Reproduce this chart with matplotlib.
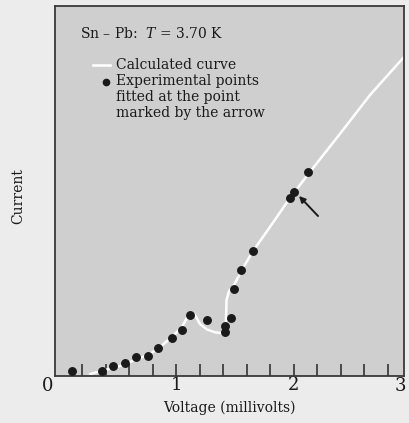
import matplotlib
matplotlib.use("Agg")
import matplotlib.pyplot as plt
from matplotlib.ticker import FixedLocator

# ---- data ----
exp_v = [0.111, 0.367, 0.460, 0.569, 0.662, 0.759, 0.849, 0.963, 1.054, 1.117,
         1.263, 1.419, 1.419, 1.469, 1.490, 1.554, 1.654, 1.968, 2.005, 2.124]
exp_i = [0.135, 0.135, 0.27, 0.35, 0.505, 0.535, 0.749, 1.014, 1.235, 1.657,
         1.519, 1.351, 1.181, 1.573, 2.357, 2.873, 3.368, 4.811, 4.981, 5.50]

calc_v = [0.268, 0.395, 0.523, 0.651, 0.778, 0.863, 0.965, 1.050, 1.101, 1.127,
          1.161, 1.203, 1.263, 1.331, 1.399, 1.416, 1.424, 1.429, 1.450, 1.492,
          1.569, 1.654, 1.798, 1.968, 2.138, 2.419, 2.649, 2.938]
calc_i = [0.054, 0.162, 0.27, 0.432, 0.595, 0.784, 1.054, 1.324, 1.622, 1.730,
          1.649, 1.405, 1.257, 1.181, 1.154, 1.216, 1.514, 2.054, 2.297, 2.459,
          2.919, 3.378, 4.027, 4.811, 5.514, 6.649, 7.595, 8.622]

arrow_head = (2.045, 4.865)
arrow_tail = (2.207, 4.324)

minor_ticks = [0.2, 0.4, 0.6, 0.8, 1.2, 1.4, 1.6, 1.8, 2.2, 2.4, 2.6, 2.8]
major_ticks = [1, 2]

title_text = "Sn – Pb:  $T$ = 3.70 K"
legend_curve = "Calculated curve"
legend_points = ["Experimental points", "fitted at the point", "marked by the arrow"]
x_label = "Voltage (millivolts)"
y_label = "Current"

plt.rcParams['font.family'] = ['DejaVu Serif']
plt.rcParams['mathtext.fontset'] = 'custom'
plt.rcParams['mathtext.it'] = 'DejaVu Serif:italic'
plt.rcParams['mathtext.rm'] = 'DejaVu Serif'

inside = '#cfcfcf'
outside = '#ececec'
ink = '#1a1a1a'

fig = plt.figure(figsize=(4.09, 4.23), dpi=100, facecolor=outside)
ax = fig.add_axes([55/409, (423-376)/423, 349/409, 370/423])
ax.set_facecolor(inside)
ax.set_xlim(-0.0298, 2.938)
ax.set_ylim(0, 10)

# calculated curve (white line)
ax.plot(calc_v, calc_i, color='white', lw=1.8, solid_capstyle='round', zorder=2)
# experimental points
ax.plot(exp_v, exp_i, 'o', color=ink, ms=5.4, mec=ink, zorder=3)
# arrow
ax.annotate('', xy=arrow_head, xytext=arrow_tail,
            arrowprops=dict(arrowstyle='-|>', color=ink, lw=1.4,
                            mutation_scale=9, shrinkA=0, shrinkB=0), zorder=4)

# ticks
ax.xaxis.set_major_locator(FixedLocator(major_ticks))
ax.xaxis.set_minor_locator(FixedLocator(minor_ticks))
ax.tick_params(axis='x', which='both', direction='in', length=9, width=1.2,
               color='#333333', labelsize=13, pad=0)
ax.tick_params(axis='y', which='both', left=False, labelleft=False)
for lbl, xv in (("0", -0.089), ("3", 2.905)):
    ax.text(xv, -0.003, lbl, transform=ax.get_xaxis_transform(), ha='center',
            va='top', fontsize=13, color=ink, clip_on=False)
for t in ax.get_xticklabels():
    t.set_color(ink)

for s in ax.spines.values():
    s.set_color('#3a3a3a')
    s.set_linewidth(1.3)

ax.set_xlabel(x_label, fontsize=10, color=ink, labelpad=5)
fig.text(18/409, 1 - 196/423, y_label, rotation=90, ha='center', va='center',
         fontsize=10, color=ink)

# title & legend
def fx(px):
    return (px - 55) / 349

def fy(py):
    return (376 - py) / 370

ax.text(fx(80), fy(33), title_text, transform=ax.transAxes, ha='left',
        va='center', fontsize=10, color=ink)
ax.plot([fx(93), fx(110)], [fy(65), fy(65)], color='white', lw=1.8,
        transform=ax.transAxes)
ax.text(fx(116), fy(65), legend_curve, transform=ax.transAxes, ha='left',
        va='center', fontsize=10, color=ink)
ax.plot([fx(106)], [fy(82)], 'o', color=ink, ms=4.5, transform=ax.transAxes)
for k, line in enumerate(legend_points):
    ax.text(fx(116), fy(81.5 + 16 * k), line, transform=ax.transAxes, ha='left',
            va='center', fontsize=10, color=ink)

fig.savefig('out.png', dpi=100, facecolor=outside)
